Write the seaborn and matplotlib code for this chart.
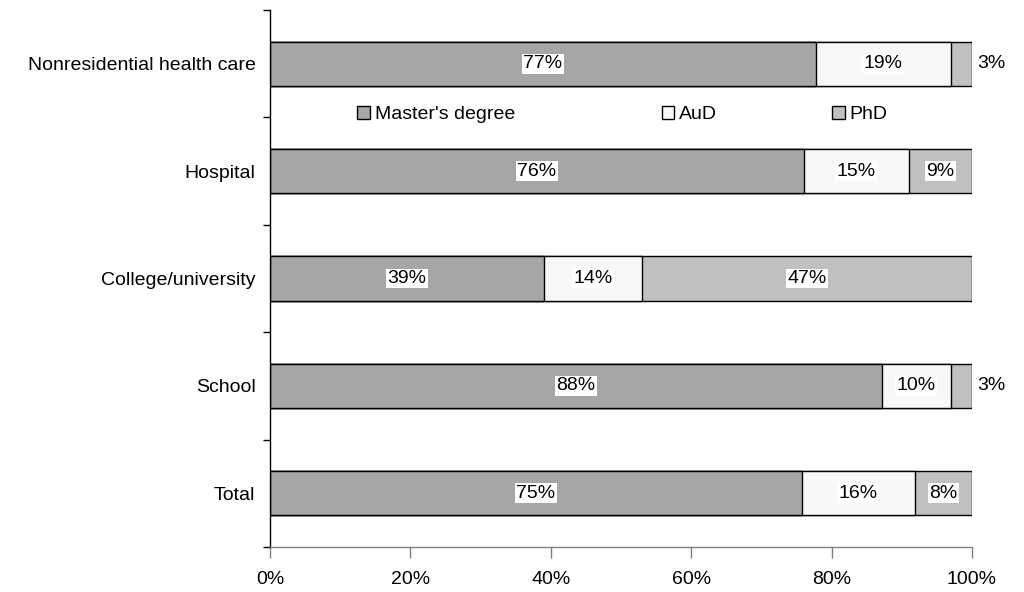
import numpy as np
import pandas as pd
import matplotlib
matplotlib.use("Agg")
import matplotlib.pyplot as plt
import seaborn as sns
from matplotlib.patches import Patch

# Work settings and degree shares (percent, as reported)
settings = ["Nonresidential health care", "Hospital", "College/university", "School", "Total"]
masters = [77, 76, 39, 88, 75]
aud = [19, 15, 14, 10, 16]
phd = [3, 9, 47, 3, 8]
series_names = ["Master's degree", "AuD", "PhD"]
x_ticks = [0, 20, 40, 60, 80, 100]

colors = {"Master's degree": "#a6a6a6", "AuD": "#f8f8f8", "PhD": "#c0c0c0"}
FS = 14

sns.set_style("white")
plt.rcParams["font.family"] = ["Liberation Sans", "DejaVu Sans"]
plt.rcParams["font.size"] = FS
plt.rcParams["text.color"] = "black"
plt.rcParams["xtick.labelcolor"] = "black"
plt.rcParams["ytick.labelcolor"] = "black"

df = pd.DataFrame({"setting": settings, "Master's degree": masters, "AuD": aud, "PhD": phd})
totals = df[series_names].sum(axis=1)
# 100% stacked: each row scaled to its own total
shares = df[series_names].div(totals, axis=0) * 100
cum = shares.cumsum(axis=1)
cum["setting"] = df["setting"]

fig = plt.figure(figsize=(10.24, 5.92), dpi=100)
ax = fig.add_axes([0.2637, 0.0760, 0.6855, 0.9071])

# Draw cumulative bars from the widest down so each segment shows on top
for name in reversed(series_names):
    sns.barplot(data=cum, x=name, y="setting", order=settings, orient="y",
                color=colors[name], saturation=1, width=0.41,
                edgecolor="black", linewidth=1, ax=ax)

# Segment value labels
for i, setting in enumerate(settings):
    left = 0.0
    for name in series_names:
        val = df.loc[i, name]
        seg = shares.loc[i, name]
        if val < 5:
            ax.annotate(f"{val}%", xy=(left + seg, i), xytext=(4, 0),
                        textcoords="offset points", ha="left", va="center",
                        fontsize=FS, color="black")
        else:
            ax.text(left + seg / 2, i, f"{val}%", ha="center", va="center",
                    fontsize=FS, color="black",
                    bbox=dict(facecolor="white", edgecolor="none", pad=1))
        left += seg

ax.set_xlim(0, 100)
ax.set_ylim(len(settings) - 0.5, -0.5)
ax.set_xticks(x_ticks)
ax.set_xticklabels([f"{t}%" for t in x_ticks])
ax.set_xlabel("")
ax.set_ylabel("")

# Category labels at bar centres, tick marks at category boundaries
ax.set_yticks(np.arange(len(settings)))
ax.set_yticklabels(settings)
ax.set_yticks(np.arange(-0.5, len(settings)), minor=True)
ax.tick_params(axis="y", which="major", length=0, pad=10.5, labelsize=FS)
ax.tick_params(axis="y", which="minor", length=5, width=1, color="black", direction="out", left=True)
ax.tick_params(axis="x", which="major", length=8, width=1, color="#808080", direction="out",
               bottom=True, pad=9, labelsize=FS)

for side in ["top", "right"]:
    ax.spines[side].set_visible(False)
ax.spines["left"].set_color("black")
ax.spines["left"].set_linewidth(1)
ax.spines["bottom"].set_color("#808080")
ax.spines["bottom"].set_linewidth(1)

# Legend entries spread across the gap below the first bar
legend_x = [0.124, 0.558, 0.8006]
for k, (name, lx) in enumerate(zip(series_names, legend_x)):
    handle = Patch(facecolor=colors[name], edgecolor="black", linewidth=1)
    leg = ax.legend([handle], [name], loc="center left",
                    bbox_to_anchor=(lx, 0.806), frameon=False,
                    handlelength=0.65, handleheight=0.65, handletextpad=0.25,
                    borderpad=0, borderaxespad=0, fontsize=FS)
    if k < len(series_names) - 1:
        ax.add_artist(leg)

fig.savefig("out.png", dpi=100)
